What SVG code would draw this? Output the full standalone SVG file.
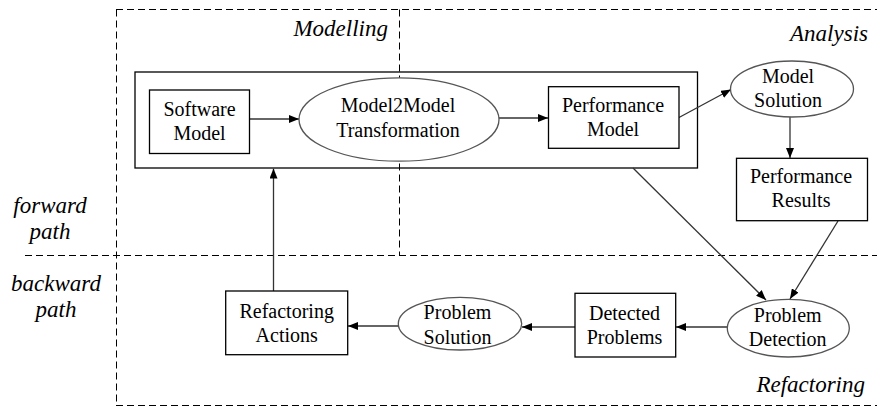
<svg xmlns="http://www.w3.org/2000/svg" width="877" height="407" viewBox="0 0 877 407">
<defs>
<marker id="arr" viewBox="0 0 10 8" refX="10" refY="4" markerWidth="10" markerHeight="8" markerUnits="userSpaceOnUse" orient="auto">
<path d="M0,0 L10,4 L0,8 z" fill="#000"/>
</marker>
</defs>
<style>
.dash{fill:none;stroke:#000;stroke-width:1;stroke-dasharray:7 4}
.box{fill:#fff;stroke:#000;stroke-width:1.3}
.ell{fill:#fff;stroke:#555;stroke-width:1.3}
.t{font-size:20px;fill:#000;text-anchor:middle}
.it{font-size:23px;font-style:italic;fill:#000}
.c{fill:none;stroke:#333;stroke-width:1.3;marker-end:url(#arr)}
</style>
<rect width="877" height="407" fill="#fff"/>
<g id="regions" font-family="'Liberation Serif', 'DejaVu Serif', serif">
<line class="dash" x1="116" y1="9.5" x2="877" y2="9.5"/>
<line class="dash" x1="116" y1="405.5" x2="877" y2="405.5"/>
<line class="dash" x1="116.5" y1="9.5" x2="116.5" y2="405.5"/>
<line class="dash" x1="25" y1="255.5" x2="877" y2="255.5"/>
<line class="dash" x1="399.5" y1="9.5" x2="399.5" y2="255.5"/>
<text class="it" x="388" y="36" text-anchor="end">Modelling</text>
<text class="it" x="868" y="41" text-anchor="end">Analysis</text>
<text class="it" x="865" y="392" text-anchor="end">Refactoring</text>
<text class="it" x="50" y="213" text-anchor="middle">forward</text>
<text class="it" x="50" y="239" text-anchor="middle">path</text>
<text class="it" x="56" y="291" text-anchor="middle">backward</text>
<text class="it" x="56" y="317" text-anchor="middle">path</text>
</g>
<g id="container"><rect x="135" y="72" width="562.5" height="96" fill="none" stroke="#000" stroke-width="1.3"/></g>
<g id="connectors">
<line class="c" x1="250" y1="119" x2="299" y2="119"/>
<line class="c" x1="499" y1="118" x2="548" y2="118"/>
<line class="c" x1="679" y1="117.5" x2="731" y2="89.5"/>
<line class="c" x1="790" y1="116.5" x2="790" y2="158"/>
<line class="c" x1="838" y1="221" x2="790" y2="299"/>
<line class="c" x1="633" y1="168" x2="766" y2="300"/>
<line class="c" x1="727" y1="327" x2="676" y2="327"/>
<line class="c" x1="575" y1="327" x2="522" y2="327"/>
<line class="c" x1="399" y1="326" x2="348" y2="326"/>
<line class="c" x1="273.5" y1="291" x2="273.5" y2="168.5"/>
</g>
<g font-family="'Liberation Serif', 'DejaVu Serif', serif">
<g id="software-model">
<rect class="box" x="149.5" y="90" width="100" height="63.5"/>
<text class="t" x="199.5" y="115.7">Software</text>
<text class="t" x="199.5" y="140">Model</text>
</g>
<g id="m2m">
<ellipse class="ell" cx="399" cy="119.5" rx="100" ry="41.7"/>
<text class="t" x="398" y="112">Model2Model</text>
<text class="t" x="398" y="136.7">Transformation</text>
</g>
<g id="performance-model">
<rect class="box" x="548.5" y="86.7" width="130.5" height="61.6"/>
<text class="t" x="613" y="111.7">Performance</text>
<text class="t" x="613" y="135.7">Model</text>
</g>
<g id="model-solution">
<ellipse class="ell" cx="792" cy="89" rx="61.5" ry="28"/>
<text class="t" x="788" y="82.7">Model</text>
<text class="t" x="788" y="106.7">Solution</text>
</g>
<g id="performance-results">
<rect class="box" x="736.5" y="158.3" width="131" height="62.4"/>
<text class="t" x="801" y="183.3">Performance</text>
<text class="t" x="801" y="206.7">Results</text>
</g>
<g id="problem-detection">
<ellipse class="ell" cx="788.3" cy="328.2" rx="61" ry="28.8"/>
<text class="t" x="787.7" y="321.7">Problem</text>
<text class="t" x="787.7" y="346">Detection</text>
</g>
<g id="detected-problems">
<rect class="box" x="575" y="293.3" width="100.7" height="63.7"/>
<text class="t" x="624.5" y="320">Detected</text>
<text class="t" x="624.5" y="344">Problems</text>
</g>
<g id="problem-solution">
<ellipse class="ell" cx="460" cy="323.7" rx="61.7" ry="26.3"/>
<text class="t" x="457.5" y="319.3">Problem</text>
<text class="t" x="457.5" y="344">Solution</text>
</g>
<g id="refactoring-actions">
<rect class="box" x="225.7" y="291" width="122" height="63.7"/>
<text class="t" x="286.7" y="317.7">Refactoring</text>
<text class="t" x="286.7" y="341.7">Actions</text>
</g>
</g>
</svg>
